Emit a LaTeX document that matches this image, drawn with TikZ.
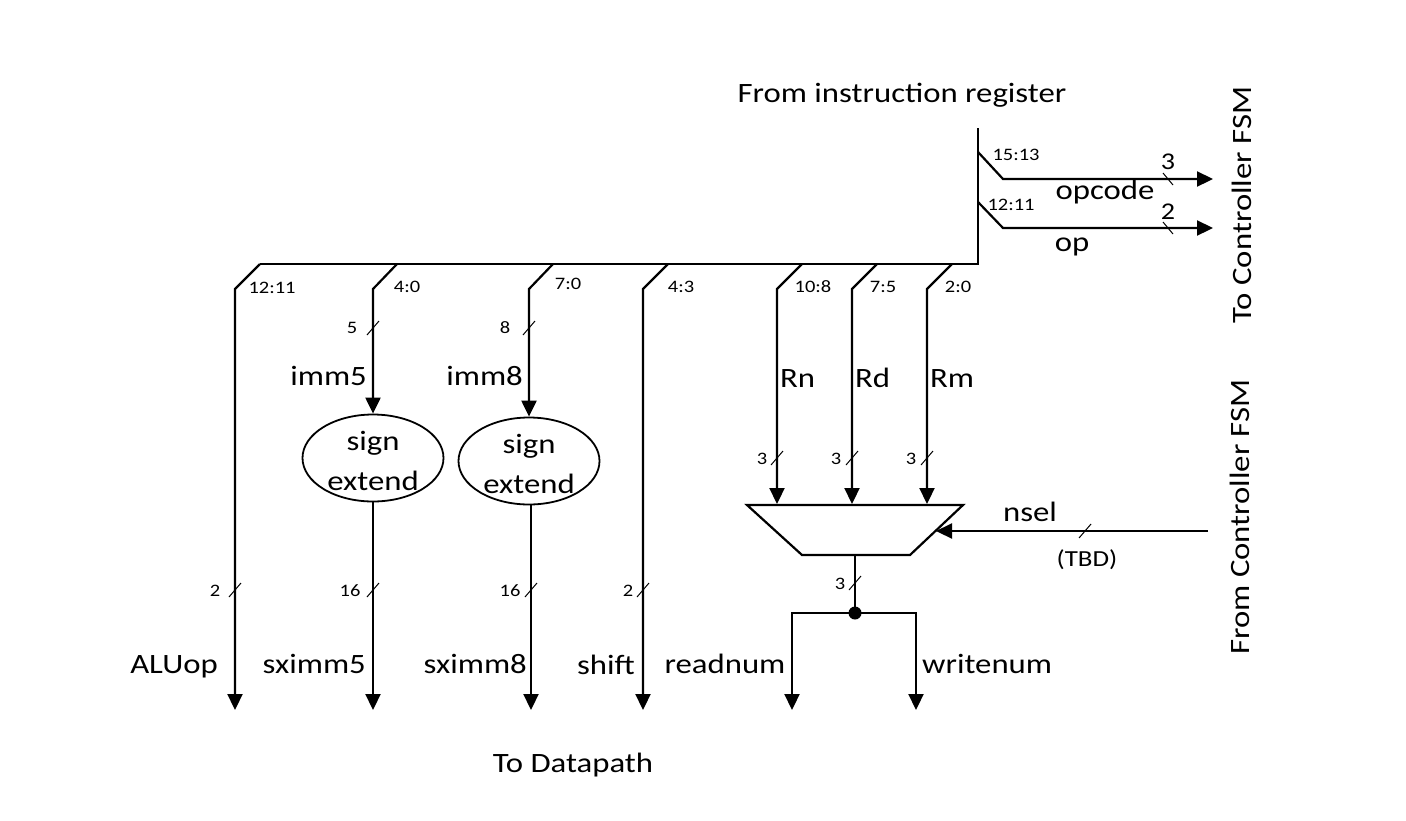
\documentclass[tikz,border=0pt]{standalone}
\usepackage{fontspec}
\setmainfont[FakeStretch=1.17]{Carlito}
\usetikzlibrary{arrows.meta,shapes.geometric}
\begin{document}
\begin{tikzpicture}[x=1pt,y=-1pt,
  wire/.style={line width=2.2pt},
  sig/.style={line width=2.2pt,-{Triangle[length=16pt,width=15pt]}},
  bw/.style={line width=1pt},
  big/.style={font=\fontsize{28}{36}\selectfont, inner sep=0pt},
  small/.style={font=\fontsize{17.5}{19}\selectfont, inner sep=0pt},
  mid/.style={font=\fontsize{24}{26}\selectfont, inner sep=0pt},
  tbd/.style={font=\fontsize{23}{25}\selectfont, inner sep=0pt},
  sext/.style={draw, line width=1.8pt, ellipse, minimum width=141pt, minimum height=87pt, inner sep=0pt},
  sextt/.style={inner sep=0pt, align=center, font=\fontsize{28}{40}\selectfont}
]
\useasboundingbox (0,0) rectangle (1406,820);
\newcommand\bslash[1]{\draw[bw] (#1) ++(-6,7) -- ++(12,-14);}
\newcommand\rslash[1]{\draw[bw] (#1) ++(-5,-6) -- ++(10,12);}

% main bus
\coordinate (ir) at (978,128);
\coordinate (bc) at (978,264);
\coordinate (bl) at (260,264);
\draw[wire] (ir) -- (bc) -- (bl);

% taps to controller
\coordinate (t1) at (978,152);
\coordinate (t1b) at (1003,179);
\coordinate (opc) at (1213,179);
\coordinate (t2) at (978,202);
\coordinate (t2b) at (1003,228);
\coordinate (opo) at (1213,228);
\draw[sig] (t1) -- (t1b) -- (opc);
\draw[sig] (t2) -- (t2b) -- (opo);
\coordinate (s1) at (1168,179); \rslash{s1}
\coordinate (s2) at (1168,228); \rslash{s2}
\node[mid] (w1) at (1168,162) {3};
\node[mid] (w2) at (1168,212) {2};
\node[small] (l1513) at (1016,155) {15:13};
\node[small] (l1211a) at (1011,205) {12:11};
\node[big] (opcode) at (1105,192) {opcode};
\node[big] (op) at (1072,247) {op};

% taps from bus
\coordinate (a0) at (260,264);  \coordinate (a1) at (235,289);
\coordinate (b0) at (397,264);  \coordinate (b1) at (373,289);
\coordinate (c0) at (553,264);  \coordinate (c1) at (529,289);
\coordinate (d0) at (668,264);  \coordinate (d1) at (643,289);
\coordinate (e0) at (802,264);  \coordinate (e1) at (777,289);
\coordinate (f0) at (877,264);  \coordinate (f1) at (852,289);
\coordinate (g0) at (952,264);  \coordinate (g1) at (927,289);

\node[small] (l1211) at (272,288) {12:11};
\node[small] (l40) at (407,287) {4:0};
\node[small] (l70) at (568,284) {7:0};
\node[small] (l43) at (681,287) {4:3};
\node[small] (l108) at (813,287) {10:8};
\node[small] (l75) at (883,287) {7:5};
\node[small] (l20) at (958,287) {2:0};

% sign extenders
\node[sext] (se1) at (373,458) {};
\node[sext] (se2) at (529,461) {};
\node[sextt] (se1t) at ([yshift=-3pt]se1.center) {sign\\extend};
\node[sextt] (se2t) at ([yshift=-3pt]se2.center) {sign\\extend};

% outputs to datapath
\coordinate (alu) at (235,710);
\coordinate (sx5) at (373,710);
\coordinate (sx8) at (531,710);
\coordinate (sh) at (643,710);
\draw[sig] (a0) -- (a1) -- (alu);
\draw[sig] (b0) -- (b1) -- (se1.north);
\draw[sig] (c0) -- (c1) -- (se2.north);
\draw[sig] (se1.south) -- (sx5);
\draw[sig] (se2.south -| sx8) -- (sx8);
\draw[sig] (d0) -- (d1) -- (sh);

\coordinate (s5) at (373,328); \bslash{s5}
\node[small] (n5) at (352,328) {5};
\coordinate (s8) at (529,328); \bslash{s8}
\node[small] (n8) at (505,328) {8};
\node[big, anchor=base east] (imm5) at (367,385) {imm5};
\node[big, anchor=base east] (imm8) at (523,385) {imm8};

\coordinate (sa) at (235,590); \bslash{sa}
\node[small] (na) at (215,591) {2};
\coordinate (sb) at (373,590); \bslash{sb}
\node[small] (nb) at (350,591) {16};
\coordinate (sc) at (531,590); \bslash{sc}
\node[small] (nc) at (510,591) {16};
\coordinate (sd) at (643,590); \bslash{sd}
\node[small] (nd) at (628,591) {2};

% mux
\coordinate (mtl) at (747,505);
\coordinate (mtr) at (963,505);
\coordinate (mbr) at (910,555);
\coordinate (mbl) at (802,555);
\draw[wire] (mtl) -- (mtr) -- (mbr) -- (mbl) -- cycle;
\coordinate (rnin) at (777,504);
\coordinate (rdin) at (852,504);
\coordinate (rmin) at (927,504);
\draw[sig] (e0) -- (e1) -- (rnin);
\draw[sig] (f0) -- (f1) -- (rdin);
\draw[sig] (g0) -- (g1) -- (rmin);
\node[big, anchor=base west] (Rn) at (780,387) {Rn};
\node[big, anchor=base west] (Rd) at (855,387) {Rd};
\node[big, anchor=base west] (Rm) at (930,387) {Rm};
\coordinate (sn) at (777,458); \bslash{sn}
\coordinate (sdd) at (852,458); \bslash{sdd}
\coordinate (sm) at (927,458); \bslash{sm}
\node[small] (nn) at (762,459) {3};
\node[small] (ndd) at (836,459) {3};
\node[small] (nm) at (911,459) {3};

% select
\coordinate (fsm) at (1208,531);
\coordinate (sel) at (936,531);
\draw[sig] (fsm) -- (sel);
\coordinate (ss) at (1085,531); \bslash{ss}
\node[big] (nsel) at (1030,512) {nsel};
\node[tbd] (tbdl) at (1087,560) {(TBD)};

% mux output
\coordinate (mo) at (855,555);
\coordinate (dot) at (855,613);
\coordinate (rdn) at (792,710);
\coordinate (wrn) at (916,710);
\draw[wire] (mo) -- (dot);
\draw[sig] (dot) -| (rdn);
\draw[sig] (dot) -| (wrn);
\fill (dot) circle (6.5pt);
\coordinate (so) at (855,583); \bslash{so}
\node[small] (no) at (840,584) {3};

% labels
\node[big, anchor=base east] (ALUop) at (218,673) {ALUop};
\node[big, anchor=base east] (sximm5) at (366,673) {sximm5};
\node[big, anchor=base east] (sximm8) at (527,673) {sximm8};
\node[big, anchor=base east] (shift) at (635,674) {shift};
\node[big, anchor=base] (readnum) at (725,673) {readnum};
\node[big, anchor=base west] (writenum) at (922,673) {writenum};

\node[big] (fir) at (902,95) {From instruction register};
\node[big] (tdp) at (573,765) {To Datapath};
\node[big, rotate=90] (tcf) at (1242,205) {To Controller FSM};
\node[big, rotate=90] (fcf) at (1240,517) {From Controller FSM};
\end{tikzpicture}
\end{document}
